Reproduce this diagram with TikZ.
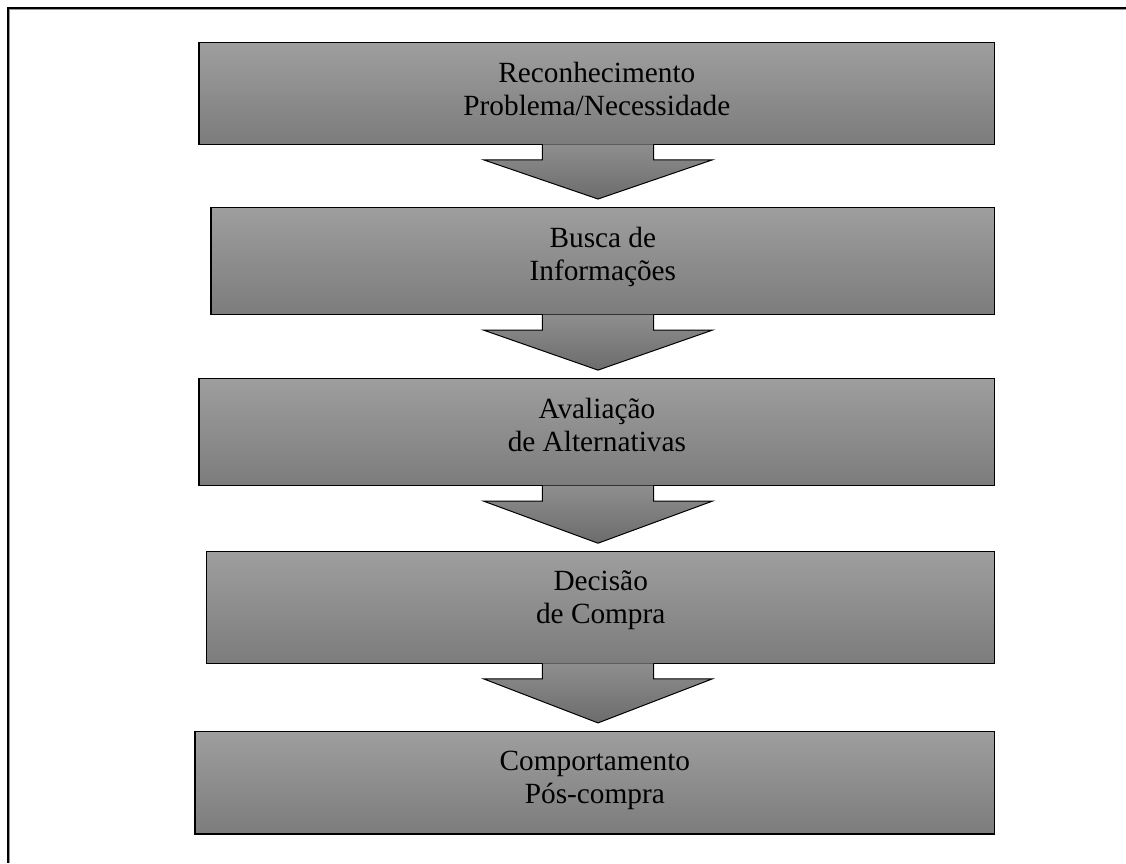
\documentclass[tikz,border=0pt]{standalone}
\usepackage{fontspec}
\setmainfont{Liberation Serif}
\usetikzlibrary{calc}
\definecolor{boxtop}{RGB}{158,158,158}
\definecolor{boxbot}{RGB}{124,124,124}
\definecolor{arrtop}{RGB}{142,142,142}
\definecolor{arrbot}{RGB}{108,108,108}
\definecolor{framegray}{RGB}{150,150,150}
\newcommand{\flowarrow}[2]{%
  \path (#1.south -| ax) coordinate (s-#1) (#2.north -| ax) coordinate (e-#1);
  \shade[flowarrow] ($(s-#1)+(-55.7,0)$) -- ($(s-#1)+(-55.7,15.5)$) -- ($(s-#1)+(-114.5,15.5)$)
    -- ($(e-#1)+(0,-8.5)$) -- ($(s-#1)+(114.5,15.5)$) -- ($(s-#1)+(55.7,15.5)$) -- ($(s-#1)+(55.7,0)$);
}
\begin{document}
\begin{tikzpicture}[x=1pt,y=-1pt,
  stepbox/.style={draw=black, line width=1.3pt, top color=boxtop, bottom color=boxbot,
    outer sep=0pt, inner sep=0pt},
  flowarrow/.style={draw=black, line width=1pt, top color=arrtop, bottom color=arrbot},
  steplabel/.style={font=\fontsize{29.3}{33}\selectfont, align=center, anchor=north, inner sep=0pt}]
\useasboundingbox (0,0) rectangle (1126,863);
\fill[white] (0,0) rectangle (1126,863);
% frame (open on right and bottom)
\draw[line width=2.4pt] (1126,7.8) -- (7.8,7.8) -- (7.8,863);
\draw[framegray, line width=0.9pt] (1126,9.5) -- (9.5,9.5) -- (9.5,863);
\coordinate (ax) at (598,0);
% boxes
\node[stepbox, minimum width=795.7pt, minimum height=101.6pt] (b1) at (596.85,93.5) {};
\node[stepbox, minimum width=783.7pt, minimum height=107.1pt] (b2) at (602.85,261.05) {};
\node[stepbox, minimum width=795.7pt, minimum height=107pt] (b3) at (596.85,432.1) {};
\node[stepbox, minimum width=788pt, minimum height=111.6pt] (b4) at (600.7,607.5) {};
\node[stepbox, minimum width=799.7pt, minimum height=102.6pt] (b5) at (594.85,782.7) {};
% arrows
\flowarrow{b1}{b2}
\flowarrow{b2}{b3}
\flowarrow{b3}{b4}
\flowarrow{b4}{b5}
% labels
\node[steplabel] (t1) at ($(b1.north)+(0,19)$) {Reconhecimento\\Problema/Necessidade};
\node[steplabel] (t2) at ($(b2.north)+(0,19)$) {Busca de\\Informações};
\node[steplabel] (t3) at ($(b3.north)+(0,19)$) {Avaliação\\de Alternativas};
\node[steplabel] (t4) at ($(b4.north)+(0,19)$) {Decisão\\de Compra};
\node[steplabel] (t5) at ($(b5.north)+(0,19)$) {Comportamento\\Pós-compra};
\end{tikzpicture}
\end{document}
